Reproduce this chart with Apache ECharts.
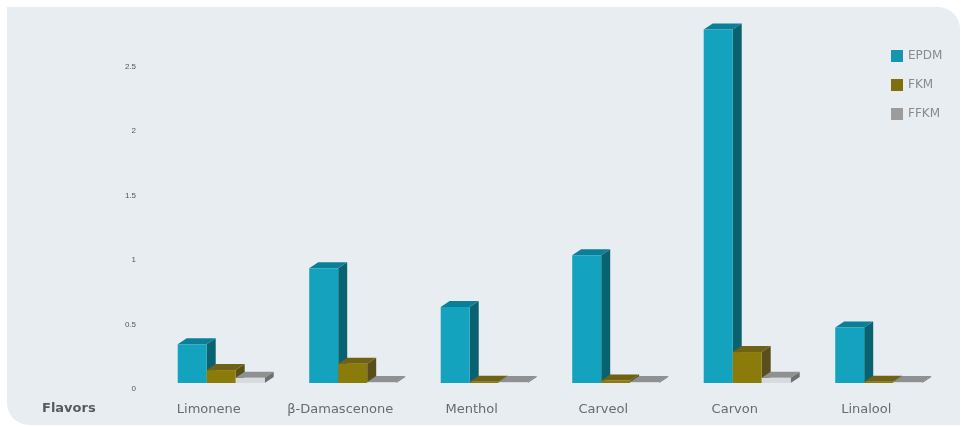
<!DOCTYPE html>
<html>
<head>
<meta charset="utf-8">
<script src="https://cdn.jsdelivr.net/npm/echarts@6/dist/echarts.min.js"></script>
<style>
html,body{margin:0;padding:0;background:#ffffff;}
#chart{width:967px;height:427px;}
</style>
</head>
<body>
<div id="chart"></div>
<script>
const categories = ['Limonene', 'β-Damascenone', 'Menthol', 'Carveol', 'Carvon', 'Linalool'];
const seriesNames = ['EPDM', 'FKM', 'FFKM'];
const epdm = [0.30, 0.89, 0.59, 0.99, 2.74, 0.43];
const fkm  = [0.10, 0.15, 0.01, 0.02, 0.24, 0.01];
const ffkm = [0.04, 0.00, 0.00, 0.00, 0.04, 0.00];
const yTicks = [0, 0.5, 1, 1.5, 2, 2.5];

const palette = [
  {front: '#13a3be', top: '#0b7f98', side: '#08626f', legend: '#1695ae'},
  {front: '#8a7b0b', top: '#6f6215', side: '#5a4f1c', legend: '#7f700d'},
  {front: '#d8dbde', top: '#8e9092', side: '#6d6f71', legend: '#9c9c9c'}
];
const values = [epdm, fkm, ffkm];
const FONT = '"DejaVu Sans", Verdana, sans-serif';

function makeRender(si) {
  return function (params, api) {
    const idx = api.value(0);
    const val = api.value(1);
    const base = api.coord([idx, 0]);
    const top = api.coord([idx, val]);
    const bandW = api.size([1, 0])[0];
    const w = bandW * 0.2205;
    const x0 = base[0] - bandW * 0.236 + si * w;
    const yb = base[1];
    const yt = Math.min(top[1], yb - 1);
    const dx = 9, dy = 6;
    const c = palette[si];
    return {
      type: 'group',
      children: [
        {type: 'polygon', shape: {points: [[x0 + w, yt], [x0 + w + dx, yt - dy], [x0 + w + dx, yb - dy], [x0 + w, yb]]}, style: {fill: c.side}},
        {type: 'polygon', shape: {points: [[x0, yt], [x0 + dx, yt - dy], [x0 + w + dx, yt - dy], [x0 + w, yt]]}, style: {fill: c.top}},
        {type: 'rect', shape: {x: x0, y: yt, width: w, height: yb - yt}, style: {fill: c.front}}
      ]
    };
  };
}

const chart = echarts.init(document.getElementById('chart'), null, {renderer: 'canvas'});
const option = {
  backgroundColor: '#ffffff',
  animation: false,
  graphic: [
    {type: 'rect', z: -10, shape: {x: 7, y: 7, width: 953, height: 418, r: [0, 22, 0, 22]}, style: {fill: '#e8edf2'}},
    {type: 'text', left: 42, top: 402, style: {text: 'Flavors', font: 'bold 13px "DejaVu Sans", Verdana, sans-serif', fill: '#5a5a5a'}}
  ],
  legend: {
    orient: 'vertical',
    left: 886,
    top: 45,
    itemWidth: 12,
    itemHeight: 12,
    itemGap: 17,
    icon: 'rect',
    textStyle: {color: '#8a8a8a', fontSize: 12, fontFamily: FONT},
    data: seriesNames
  },
  grid: {left: 143, right: 35, top: 21.8, height: 361.2},
  xAxis: {
    type: 'category',
    data: categories,
    axisLine: {show: false},
    axisTick: {show: false},
    axisLabel: {interval: 0, margin: 20, color: '#6a6a6a', fontSize: 13, fontFamily: FONT},
    splitLine: {show: false}
  },
  yAxis: {
    type: 'value',
    min: 0,
    max: 2.8,
    interval: 0.5,
    axisLine: {show: false},
    axisTick: {show: false},
    splitLine: {show: false},
    axisLabel: {
      margin: 7,
      color: '#555555',
      fontSize: 8,
      verticalAlign: 'top',
      lineHeight: 12,
      showMaxLabel: false,
      fontFamily: '"Liberation Sans", Arial, sans-serif',
      formatter: function (v) { return yTicks.indexOf(v) >= 0 ? String(v) : ''; }
    }
  },
  series: seriesNames.map(function (name, si) {
    return {
      type: 'custom',
      name: name,
      itemStyle: {color: palette[si].legend},
      renderItem: makeRender(si),
      encode: {x: 0, y: 1},
      data: values[si].map(function (v, i) { return [i, v]; })
    };
  })
};
chart.setOption(option);
</script>
</body>
</html>
